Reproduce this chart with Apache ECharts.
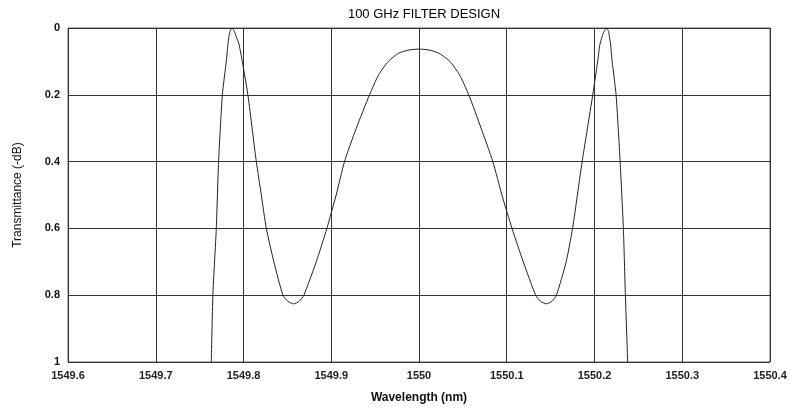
<!DOCTYPE html>
<html>
<head>
<meta charset="utf-8">
<title>100 GHz FILTER DESIGN</title>
<script src="https://cdn.jsdelivr.net/npm/echarts@6/dist/echarts.min.js"></script>
<style>
  html, body { margin: 0; padding: 0; background: #fff; }
  #main { width: 790px; height: 412px; }
</style>
</head>
<body>
<div id="main"></div>
<script>
// wavelength (nm)
var wavelength = [
  1549.7633, 1549.7651, 1549.7690, 1549.7716, 1549.7759, 1549.7804, 1549.7822, 1549.7834,
  1549.7848, 1549.7868, 1549.7895, 1549.7918, 1549.7950, 1549.7986, 1549.8050, 1549.8098,
  1549.8146, 1549.8203, 1549.8260, 1549.8346, 1549.8449, 1549.8505, 1549.8571, 1549.8637,
  1549.8688, 1549.8829, 1549.8950, 1549.9056, 1549.9151, 1549.9285, 1549.9436, 1549.9540,
  1549.9650, 1549.9770, 1549.9885, 1550.0000, 1550.0115, 1550.0230, 1550.0352, 1550.0462,
  1550.0567, 1550.0708, 1550.0841, 1550.0945, 1550.1060, 1550.1188, 1550.1329, 1550.1383,
  1550.1449, 1550.1515, 1550.1566, 1550.1677, 1550.1750, 1550.1805, 1550.1859, 1550.1920,
  1550.1980, 1550.2036, 1550.2061, 1550.2086, 1550.2109, 1550.2139, 1550.2159, 1550.2170,
  1550.2184, 1550.2201, 1550.2246, 1550.2292, 1550.2329, 1550.2352, 1550.2378
];
// transmittance (-dB)
var transmittance = [
  1.000, 0.800, 0.600, 0.400, 0.200, 0.100, 0.050, 0.026,
  0.010, 0.000, 0.010, 0.026, 0.050, 0.100, 0.200, 0.300,
  0.400, 0.500, 0.600, 0.700, 0.800, 0.818, 0.826, 0.818,
  0.800, 0.700, 0.600, 0.500, 0.400, 0.300, 0.200, 0.140,
  0.100, 0.075, 0.066, 0.063, 0.066, 0.076, 0.100, 0.140,
  0.200, 0.300, 0.400, 0.500, 0.600, 0.700, 0.800, 0.818,
  0.826, 0.818, 0.800, 0.700, 0.600, 0.500, 0.400, 0.300,
  0.200, 0.100, 0.050, 0.026, 0.010, 0.000, 0.010, 0.026,
  0.050, 0.100, 0.200, 0.400, 0.600, 0.800, 1.000
];

var points = [];
for (var i = 0; i < wavelength.length; i++) {
  points.push([wavelength[i], transmittance[i]]);
}

var font = '"Liberation Sans", Arial, sans-serif';
var myChart = echarts.init(document.getElementById('main'));
myChart.setOption({
  animation: false,
  backgroundColor: '#fff',
  title: {
    text: '100 GHz FILTER DESIGN',
    left: 419,
    textAlign: 'center',
    top: 3,
    textStyle: { fontFamily: font, fontSize: 13, fontWeight: 'normal', color: '#000' }
  },
  grid: {
    left: 68, right: 20, top: 28, bottom: 50,
    show: true, borderColor: '#666', borderWidth: 1
  },
  xAxis: {
    type: 'value',
    min: 1549.6, max: 1550.4, interval: 0.1,
    name: 'Wavelength (nm)',
    nameLocation: 'middle',
    nameGap: 30,
    nameTextStyle: { fontFamily: font, fontSize: 12, fontWeight: 'bold', color: '#111' },
    axisLine: { show: false },
    axisTick: { show: false },
    axisLabel: {
      fontFamily: font, fontSize: 11, fontWeight: 'bold', color: '#222', margin: 8,
      formatter: function (v) { return String(parseFloat(v.toFixed(4))); }
    },
    splitLine: { lineStyle: { color: '#333', width: 1 } }
  },
  yAxis: {
    type: 'value',
    inverse: true,
    min: 0, max: 1, interval: 0.2,
    name: 'Transmittance (-dB)',
    nameLocation: 'middle',
    nameGap: 44,
    nameTextStyle: { fontFamily: font, fontSize: 12, color: '#111' },
    axisLine: { show: false },
    axisTick: { show: false },
    axisLabel: {
      fontFamily: font, fontSize: 11, fontWeight: 'bold', color: '#111', margin: 8,
      formatter: function (v) { return String(parseFloat(v.toFixed(4))); }
    },
    splitLine: { lineStyle: { color: '#333', width: 1 } }
  },
  series: [{
    type: 'line',
    data: points,
    smooth: 0.2,
    showSymbol: false,
    lineStyle: { color: '#222', width: 1 }
  }]
});
</script>
</body>
</html>
